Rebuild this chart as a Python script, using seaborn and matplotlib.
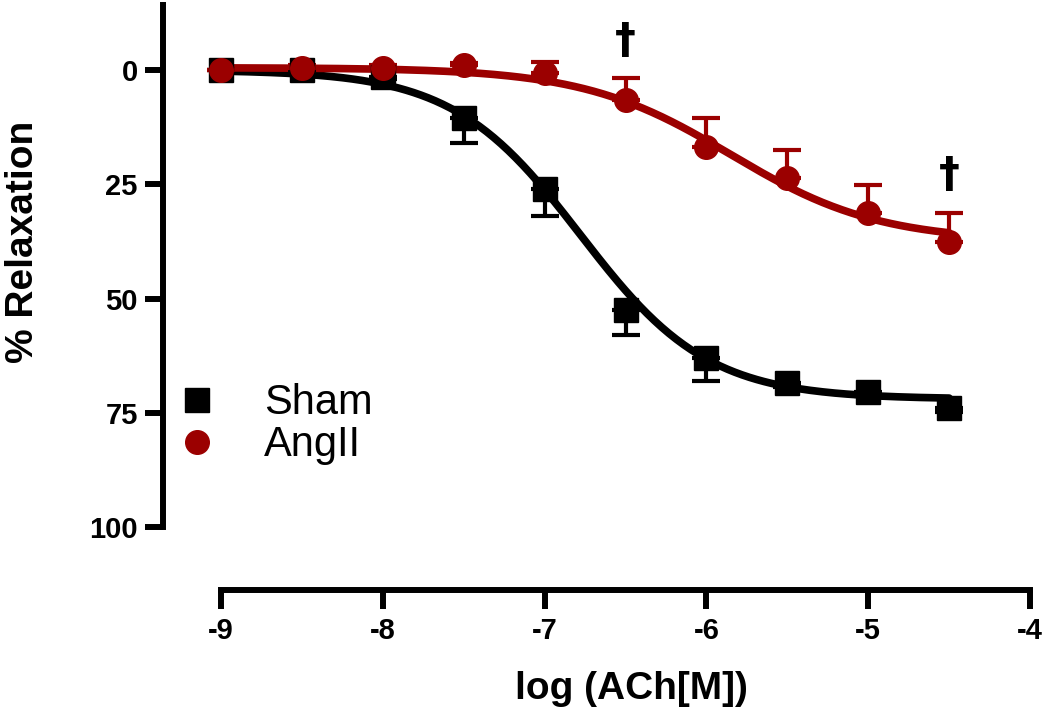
import numpy as np
import pandas as pd
import seaborn as sns
from matplotlib import pyplot as plt
from matplotlib.lines import Line2D

# dữ liệu
log_ach = [-9, -8.5, -8, -7.5, -7, -6.5, -6, -5.5, -5, -4.5]
sham_mean = [0, 0, 1.5, 10.5, 26, 52.5, 63, 68.5, 70.5, 74]
sham_sem = [0, 0, 0.5, 5.5, 6, 5.5, 5, 0.8, 0.8, 0.8]
angii_mean = [0, -0.5, -0.5, -1, 0.7, 6.5, 16.8, 23.7, 31.3, 37.6]
angii_sem = [0, 0.5, 0.5, 0.5, 2.4, 4.7, 6.3, 6.2, 6.1, 6.3]

# tham số đường fit sigmoid (top, bottom, logEC50, hill)
sham_fit = (0.0, 72.0, -6.78, 1.1)
angii_fit = (-0.5, 37.5, -5.85, 0.95)

dagger_x = [-6.5, -4.5]

labels = ['Sham', 'AngII']
colors = ['black', '#9B0000']
markers = ['s', 'o']

sns.set_style('ticks')
plt.rcParams['font.family'] = ['Liberation Sans', 'DejaVu Sans']
plt.rcParams['axes.unicode_minus'] = False
for k in ['text.color', 'axes.labelcolor', 'axes.edgecolor', 'xtick.color', 'ytick.color']:
    plt.rcParams[k] = 'black'


def sigmoid(x, top, bottom, logec50, hill):
    return bottom + (top - bottom) / (1 + 10 ** ((x - logec50) * hill))


x_fit = np.linspace(log_ach[0], log_ach[-1], 300)
curves = pd.concat([
    pd.DataFrame({'x': x_fit, 'y': sigmoid(x_fit, *sham_fit), 'group': 'Sham'}),
    pd.DataFrame({'x': x_fit, 'y': sigmoid(x_fit, *angii_fit), 'group': 'AngII'}),
])

fig = plt.figure(figsize=(10.5, 7.23), dpi=100)
ax = fig.add_axes([0.155, 0.271, 0.826, 0.722])

sns.lineplot(data=curves, x='x', y='y', hue='group', hue_order=labels,
             palette=colors, linewidth=5.5, legend=False, ax=ax, zorder=2)

# error bar một phía: sham đi xuống, angII đi lên (trục y đảo ngược)
ax.errorbar(log_ach, sham_mean, yerr=[np.zeros(len(sham_sem)), sham_sem],
            fmt='none', ecolor=colors[0], elinewidth=3, capsize=10, capthick=3, zorder=3)
ax.errorbar(log_ach, angii_mean, yerr=[angii_sem, np.zeros(len(angii_sem))],
            fmt='none', ecolor=colors[1], elinewidth=3, capsize=10, capthick=3, zorder=3)
ax.plot(log_ach, sham_mean, ls='none', marker='s', ms=17, color=colors[0], zorder=4)
ax.plot(log_ach, angii_mean, ls='none', marker='o', ms=17, color=colors[1], zorder=5)

# dấu † phía trên các điểm có ý nghĩa
for xd in dagger_x:
    i = log_ach.index(xd)
    ax.annotate('\u2020', (xd, angii_mean[i] - angii_sem[i]), xytext=(0, 12),
                textcoords='offset points', ha='center', va='bottom',
                fontsize=30, fontweight='bold', family='DejaVu Sans')

ax.set_xlim(-9.36, -4)
ax.set_ylim(100, -14.2)
ax.set_xticks([-9, -8, -7, -6, -5, -4])
ax.set_yticks([0, 25, 50, 75, 100])

sns.despine(ax=ax)
ax.spines['left'].set_linewidth(4.3)
ax.spines['bottom'].set_linewidth(4.3)
ax.spines['bottom'].set_position(('outward', 45))
ax.spines['bottom'].set_bounds(-9, -4)
ax.tick_params(axis='y', length=13, width=4.3, pad=5)
ax.tick_params(axis='x', length=14, width=4.3, pad=6)
for lab in ax.get_xticklabels() + ax.get_yticklabels():
    lab.set_fontweight('bold')
    lab.set_fontsize(21)

ax.set_xlabel('log (ACh[M])', fontsize=28, fontweight='bold')
ax.set_ylabel('% Relaxation', fontsize=28, fontweight='bold')
ax.xaxis.set_label_coords(0.54, -0.31)
ax.xaxis.label.set_va('center')
ax.yaxis.set_label_coords(-0.161, 0.546)
ax.yaxis.label.set_va('center')

handles = [Line2D([], [], ls='none', marker=m, ms=17, color=c) for m, c in zip(markers, colors)]
ax.legend(handles, labels, loc='center left', bbox_to_anchor=(0.168, 0.413),
          bbox_transform=fig.transFigure, frameon=False, fontsize=30,
          handlelength=1.0, handletextpad=1.1, labelspacing=0.05,
          borderpad=0, borderaxespad=0)

fig.savefig('out.png', dpi=100)
